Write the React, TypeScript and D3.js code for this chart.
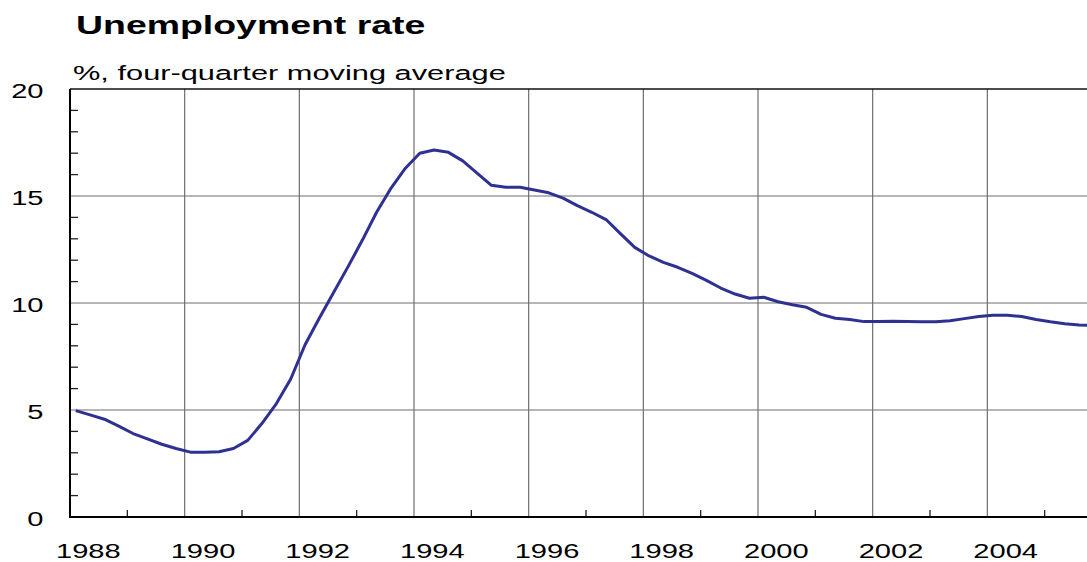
import React, { useEffect, useRef } from "react";
import * as d3 from "d3";

// quarterly data, 1988Q1 - 2005Q4
const years = d3.range(1988, 2006);
const quarters = [1, 2, 3, 4];
const rates = [
  4.97, 4.77, 4.57, 4.25,
  3.9, 3.65, 3.4, 3.2,
  3.03, 3.02, 3.05, 3.2,
  3.58, 4.38, 5.3, 6.45,
  8.05, 9.3, 10.5, 11.7,
  12.94, 14.25, 15.37, 16.3,
  17.0, 17.15, 17.04, 16.64,
  16.07, 15.5, 15.41, 15.41,
  15.28, 15.15, 14.9, 14.55,
  14.24, 13.9, 13.24, 12.6,
  12.2, 11.9, 11.67, 11.38,
  11.06, 10.7, 10.42, 10.22,
  10.27, 10.06, 9.92, 9.8,
  9.47, 9.29, 9.23, 9.13,
  9.14, 9.15, 9.13, 9.12,
  9.12, 9.17, 9.27, 9.37,
  9.43, 9.43, 9.37, 9.23,
  9.12, 9.03, 8.97, 8.96,
];
const yTicks = [0, 5, 10, 15, 20];
const xTickYears = [1988, 1990, 1992, 1994, 1996, 1998, 2000, 2002, 2004];
const title = "Unemployment rate";
const subtitle = "%, four-quarter moving average";

const W = 1087;
const H = 562;

const App = () => {
  const svgRef = useRef<SVGSVGElement>(null);

  useEffect(() => {
    const svg = d3.select(svgRef.current);
    svg.selectAll("*").remove();

    const left = 70;
    const top = 89;
    const bottom = 517;

    const x = d3.scaleLinear().domain([1988, 2006]).range([left, 1102]);
    const y = d3.scaleLinear().domain([0, 20]).range([bottom, top]);

    const font = "'Liberation Sans', Arial, sans-serif";

    // glyphs in the original are drawn wide, so text gets a horizontal stretch
    const addText = (
      px: number,
      py: number,
      str: string,
      size: number,
      weight: string,
      anchor: string,
      stretch = 1.42
    ) =>
      svg
        .append("text")
        .attr("transform", `translate(${px},${py}) scale(${stretch},1)`)
        .attr("font-family", font)
        .attr("font-size", size)
        .attr("font-weight", weight)
        .attr("text-anchor", anchor)
        .attr("fill", "#000")
        .text(str);

    const data = years
      .flatMap((yr) => quarters.map((q) => ({ t: yr + (q - 1) / 4 + 0.1 })))
      .map((d, i) => ({ ...d, v: rates[i] }));

    // grid
    const grid = svg.append("g").attr("stroke", "#6e6e6e").attr("stroke-width", 1.2);
    d3.range(1990, 2007, 2).forEach((yr) => {
      grid.append("line").attr("x1", x(yr)).attr("x2", x(yr)).attr("y1", y(0)).attr("y2", y(20));
    });
    [5, 10, 15].forEach((v) => {
      grid.append("line").attr("x1", left).attr("x2", x(2006)).attr("y1", y(v)).attr("y2", y(v));
    });

    // minor ticks
    const ticks = svg.append("g").attr("stroke", "#222").attr("stroke-width", 1.3);
    d3.range(1, 20)
      .filter((v) => v % 5 !== 0)
      .forEach((v) => {
        ticks.append("line").attr("x1", left).attr("x2", left + 8).attr("y1", y(v)).attr("y2", y(v));
      });
    d3.range(1989, 2006, 2).forEach((yr) => {
      ticks.append("line").attr("x1", x(yr)).attr("x2", x(yr)).attr("y1", bottom).attr("y2", bottom - 7);
    });

    // frame
    svg.append("line").attr("x1", left).attr("x2", x(2006)).attr("y1", top).attr("y2", top)
      .attr("stroke", "#111").attr("stroke-width", 1.6);
    svg.append("line").attr("x1", left).attr("x2", left).attr("y1", top).attr("y2", bottom + 1)
      .attr("stroke", "#000").attr("stroke-width", 2);
    svg.append("line").attr("x1", left).attr("x2", x(2006)).attr("y1", bottom).attr("y2", bottom)
      .attr("stroke", "#000").attr("stroke-width", 2);

    // series
    const line = d3
      .line<{ t: number; v: number }>()
      .x((d) => x(d.t))
      .y((d) => y(d.v));
    svg.append("path")
      .datum(data)
      .attr("d", line)
      .attr("fill", "none")
      .attr("stroke", "#2e3192")
      .attr("stroke-width", 3)
      .attr("stroke-linejoin", "round");

    // labels
    yTicks.forEach((v) => addText(43.5, y(v) + 9, String(v), 20.5, "normal", "end"));
    xTickYears.forEach((yr) => addText(x(yr + 0.32), 558, String(yr), 20.5, "normal", "middle"));

    addText(76, 34, title, 26, "bold", "start", 1.44);
    addText(73, 79.5, subtitle, 21, "normal", "start", 1.466);
  }, []);

  return (
    <svg
      ref={svgRef}
      width={W}
      height={H}
      style={{ position: "absolute", left: 0, top: 0, background: "#fff" }}
    ></svg>
  );
};

export default App;
